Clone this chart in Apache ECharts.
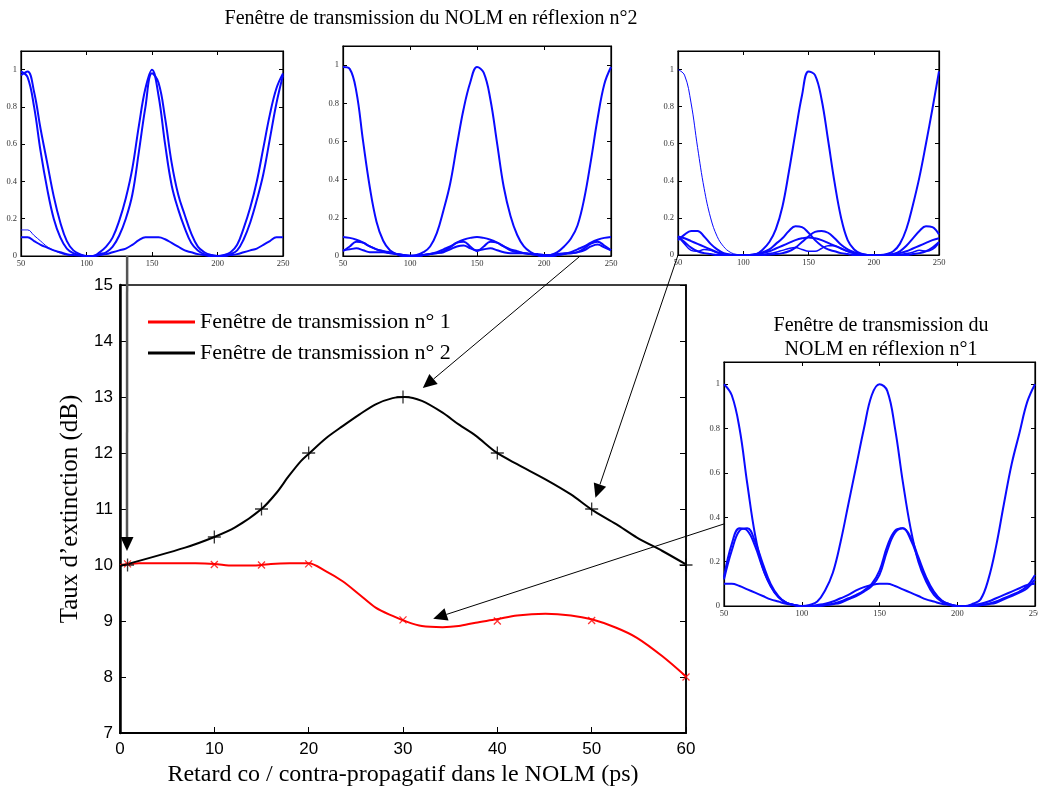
<!DOCTYPE html>
<html><head><meta charset="utf-8">
<script src="https://cdn.jsdelivr.net/npm/echarts@6/dist/echarts.min.js"></script>
<style>html,body{margin:0;padding:0;background:#fff}#c{width:1038px;height:791px}</style>
</head><body><div id="c"></div>
<script>
// ---------- main chart data ----------
const seriesNames = ['Fenêtre de transmission n° 1', 'Fenêtre de transmission n° 2'];
const markerX = [0.8, 10, 15, 20, 30, 40, 50, 60];
const win1Markers = [10.02, 10.01, 10.0, 10.02, 9.02, 9.0, 9.01, 8.0];
const win2Markers = [10.0, 10.5, 11.0, 12.0, 13.0, 12.0, 11.0, 10.0];
const win1CurveX = [0, 2, 5, 8, 10, 12, 14, 15, 16, 18, 20, 21.8, 23.6, 25.4, 27.1, 28.9, 30.2, 32, 34.2, 35.9, 37.7, 39.9, 42.1, 45.1, 47.8, 50, 52.6, 54.8, 57.5, 60];
const win1CurveY = [10.0, 10.03, 10.03, 10.03, 10.02, 9.99, 9.99, 10.0, 10.02, 10.03, 10.03, 9.89, 9.71, 9.47, 9.24, 9.09, 9.0, 8.91, 8.89, 8.91, 8.97, 9.03, 9.1, 9.13, 9.1, 9.03, 8.88, 8.7, 8.37, 8.01];
const win2CurveX = [0, 6.9, 10, 12.2, 15, 16.6, 17.9, 19.2, 20.1, 21.8, 23.6, 25.4, 27.1, 28.9, 30.2, 32, 34.2, 35.9, 37.7, 39.9, 42.1, 45.1, 47.8, 50, 52.6, 54.8, 57.5, 60];
const win2CurveY = [9.98, 10.31, 10.5, 10.67, 11.0, 11.29, 11.59, 11.86, 12.0, 12.26, 12.48, 12.69, 12.87, 12.98, 13.0, 12.93, 12.72, 12.51, 12.31, 12.01, 11.8, 11.53, 11.26, 10.99, 10.73, 10.49, 10.25, 10.01];
const xName = 'Retard co / contra-propagatif dans le NOLM (ps)';
const yName = 'Taux d’extinction (dB)';
const title2 = 'Fenêtre de transmission du NOLM en réflexion n°2';
const title1 = 'Fenêtre de transmission du\nNOLM en réflexion n°1';

// ---------- inset data (x = time, y = normalised power) ----------
const insetX = [50,55,60,65,70,75,80,85,90,95,100,105,110,115,120,125,130,135,140,145,150,155,160,165,170,175,180,185,190,195,200,205,210,215,220,225,230,235,240,245,250];
// inset 1 (réflexion n°2, delay 0)
const in1PeakA = [0.99,0.96,0.8,0.56,0.36,0.2,0.1,0.04,0.015,0.005,0,0,0.02,0.05,0.1,0.19,0.31,0.47,0.7,0.9,1.0,0.86,0.6,0.38,0.25,0.15,0.07,0.03,0.01,0.005,0,0.005,0.02,0.06,0.15,0.26,0.4,0.58,0.76,0.9,0.98];
const in1PeakB = [0.97,0.99,0.88,0.68,0.5,0.32,0.18,0.08,0.03,0.01,0,0,0.01,0.02,0.05,0.11,0.2,0.33,0.56,0.8,0.98,0.93,0.74,0.5,0.33,0.22,0.12,0.05,0.02,0.005,0,0,0.01,0.03,0.09,0.18,0.3,0.44,0.63,0.82,0.97];
const in1Small = [0.1,0.1,0.08,0.06,0.045,0.03,0.02,0.01,0.005,0.002,0,0,0.005,0.01,0.02,0.03,0.04,0.06,0.085,0.1,0.1,0.1,0.09,0.07,0.05,0.03,0.02,0.01,0.005,0,0,0.002,0.005,0.01,0.02,0.03,0.04,0.06,0.08,0.1,0.1];
const in1Thin = [0.14,0.14,0.11,0.08,0.05,0.03,0.015,0.005,0];
// inset 2 (delay 30)
const in2Peak = [0.99,0.98,0.86,0.6,0.36,0.18,0.08,0.03,0.01,0,0,0.005,0.02,0.05,0.12,0.24,0.38,0.58,0.77,0.91,0.99,0.96,0.82,0.59,0.36,0.21,0.11,0.05,0.02,0.005,0,0.005,0.02,0.05,0.09,0.16,0.3,0.5,0.72,0.9,0.99];
const in2SmallA = [0.1,0.095,0.085,0.07,0.05,0.035,0.025,0.015,0.01,0.005,0,0,0.005,0.01,0.02,0.035,0.05,0.07,0.085,0.095,0.1,0.095,0.085,0.07,0.05,0.035,0.025,0.015,0.01,0.005,0,0,0.005,0.01,0.02,0.035,0.05,0.07,0.085,0.095,0.1];
const in2SmallB = [0.025,0.05,0.075,0.07,0.05,0.035,0.025,0.02,0.01,0.005,0,0,0.005,0.01,0.015,0.025,0.045,0.07,0.075,0.05,0.025,0.05,0.075,0.07,0.05,0.03,0.02,0.015,0.01,0.005,0,0,0.005,0.01,0.015,0.02,0.04,0.065,0.075,0.055,0.03];
const in2SmallC = [0.03,0.035,0.04,0.03,0.02,0.02,0.02,0.015,0.01,0.005,0.002,0.002,0.005,0.01,0.015,0.02,0.035,0.05,0.055,0.04,0.03,0.035,0.04,0.03,0.02,0.015,0.015,0.015,0.01,0.01,0.005,0.005,0.01,0.015,0.015,0.02,0.03,0.05,0.06,0.045,0.03];
// inset 3 (delay 50)
const in3PeakLeft = [1.0,0.97,0.82,0.58,0.36,0.2,0.1,0.045,0.015,0.003,0];
const in3Peak = [0,0,0.005,0.03,0.07,0.14,0.26,0.45,0.66,0.86,0.99,0.97,0.84,0.62,0.39,0.2,0.08,0.03,0.008,0,0,0,0.005,0.02,0.06,0.14,0.27,0.42,0.6,0.79,0.99];
const in3SmallA = [0.1,0.07,0.04,0.02,0.01,0.005,0,0,0,0,0,0,0.005,0.015,0.03,0.06,0.09,0.13,0.155,0.15,0.12,0.08,0.05,0.03,0.02,0.01,0.005,0,0,0,0,0,0,0.005,0.02,0.05,0.09,0.13,0.155,0.15,0.11];
const in3SmallB = [0.08,0.11,0.13,0.13,0.1,0.06,0.03,0.01,0.003,0,0,0,0,0,0.002,0.005,0.01,0.02,0.04,0.07,0.1,0.125,0.13,0.12,0.09,0.055,0.03,0.015,0.005,0,0,0,0,0,0,0,0.005,0.01,0.02,0.04,0.07];
const in3SmallC = [0.1,0.09,0.075,0.06,0.045,0.03,0.015,0.005,0,0,0,0,0.005,0.01,0.02,0.035,0.05,0.065,0.08,0.09,0.095,0.09,0.08,0.065,0.05,0.035,0.02,0.01,0.005,0,0,0,0,0.005,0.01,0.02,0.035,0.05,0.065,0.08,0.09];
const in3SmallD = [0.1,0.06,0.025,0.02,0.03,0.025,0.012,0.004,0,0,0,0,0,0.003,0.008,0.015,0.025,0.035,0.04,0.03,0.02,0.02,0.035,0.05,0.05,0.035,0.02,0.008,0.002,0,0,0,0,0,0.003,0.008,0.015,0.025,0.02,0.03,0.065];
// inset 4 (réflexion n°1)
const in4Peak = [1.0,0.95,0.8,0.55,0.32,0.17,0.09,0.04,0.015,0.003,0,0.005,0.02,0.07,0.15,0.29,0.46,0.63,0.8,0.95,1.0,0.97,0.8,0.56,0.35,0.2,0.11,0.05,0.02,0.005,0,0,0.01,0.03,0.12,0.27,0.46,0.64,0.78,0.92,1.0];
const in4BumpA = [0.13,0.28,0.35,0.34,0.27,0.17,0.09,0.04,0.015,0.005,0,0,0,0.005,0.01,0.02,0.035,0.05,0.07,0.1,0.16,0.27,0.34,0.35,0.3,0.21,0.12,0.06,0.025,0.008,0,0,0,0.005,0.01,0.02,0.035,0.05,0.065,0.09,0.14];
const in4BumpB = [0.12,0.25,0.34,0.35,0.29,0.19,0.1,0.045,0.015,0.005,0,0,0,0.003,0.008,0.015,0.03,0.045,0.065,0.09,0.14,0.25,0.33,0.35,0.31,0.22,0.13,0.065,0.025,0.008,0,0,0,0.003,0.008,0.015,0.03,0.045,0.06,0.08,0.12];
const in4Small = [0.1,0.1,0.09,0.075,0.06,0.045,0.03,0.02,0.01,0.005,0,0,0.005,0.01,0.02,0.035,0.05,0.07,0.085,0.095,0.1,0.1,0.09,0.075,0.06,0.045,0.03,0.02,0.01,0.005,0,0,0.005,0.01,0.02,0.035,0.05,0.065,0.08,0.095,0.1];

// ---------- layout ----------
const mainRect = [120, 285, 566, 448];
const insetRects = [[21, 51, 262, 205], [343, 46, 268, 210], [678, 51, 261, 204], [724, 362, 311, 244]];
const insetCurves = [
  [[in1PeakA, 0, 2], [in1PeakB, 0, 2], [in1Small, 0, 2], [in1Thin, 0, 1]],
  [[in2Peak, 0, 2], [in2SmallA, 0, 2], [in2SmallB, 0, 2], [in2SmallC, 0, 2]],
  [[in3PeakLeft, 0, 1], [in3Peak, 10, 2], [in3SmallA, 0, 2], [in3SmallB, 0, 2], [in3SmallC, 0, 2], [in3SmallD, 0, 1.5]],
  [[in4Peak, 0, 2], [in4BumpA, 0, 2], [in4BumpB, 0, 2], [in4Small, 0, 2]]
];
// arrows: start = [gridIndex, x, y] in inset data coords, tip = main chart data coords
const arrowStarts = [[1, 131, 0], [2, 227, 0], [3, 50, 0], [4, 50, 0.37]];
const arrowTips = [[0.74, 10.25], [32.1, 13.16], [50.4, 11.2], [33.2, 9.04]];

const SERIF = 'Liberation Serif';
const SANS = 'Liberation Sans';
const BLUE = '#0a0aff';

const chart = echarts.init(document.getElementById('c'), null, {renderer: 'canvas'});
const zip = (xs, ys) => ys.map((y, i) => [xs[i], y]);

const grids = [{left: mainRect[0], top: mainRect[1], width: mainRect[2], height: mainRect[3], show: true, borderColor: '#000', borderWidth: 1.5, containLabel: false, outerBoundsMode: 'none'}];
const xAxes = [{
  type: 'value', gridIndex: 0, min: 0, max: 60, interval: 10,
  name: xName, nameLocation: 'middle', nameGap: 30,
  nameTextStyle: {fontFamily: SERIF, fontSize: 24, color: '#000'},
  axisLine: {show: true, onZero: false, lineStyle: {color: '#000', width: 2}},
  axisTick: {inside: true, length: 6, lineStyle: {color: '#000'}},
  axisLabel: {fontFamily: SANS, fontSize: 17, color: '#000', margin: 8},
  splitLine: {show: false}
}];
const yAxes = [{
  type: 'value', gridIndex: 0, min: 7, max: 15, interval: 1, position: 'left',
  name: yName, nameLocation: 'middle', nameGap: 32, nameRotate: 90,
  nameTextStyle: {fontFamily: SERIF, fontSize: 25, color: '#000'},
  axisLine: {show: true, onZero: false, lineStyle: {color: '#000', width: 2.5}},
  axisTick: {inside: true, length: 6, lineStyle: {color: '#000'}},
  axisLabel: {fontFamily: SANS, fontSize: 17, color: '#000', margin: 7},
  splitLine: {show: false}
}, {
  type: 'value', gridIndex: 0, min: 7, max: 15, interval: 1, position: 'right',
  axisLine: {show: true, onZero: false, lineStyle: {color: '#000', width: 1.5}},
  axisTick: {inside: true, length: 6, lineStyle: {color: '#000'}},
  axisLabel: {show: false}, splitLine: {show: false}
}];

const insetAxisIdx = [];
insetRects.forEach((r, k) => {
  const gi = k + 1;
  grids.push({left: r[0], top: r[1], width: r[2], height: r[3], show: true, borderColor: '#000', borderWidth: 1.2, containLabel: false, outerBoundsMode: 'none'});
  const xi = xAxes.length, yi = yAxes.length;
  insetAxisIdx.push([xi, yi]);
  const common = {axisLine: {show: true, onZero: false, lineStyle: {color: '#000', width: 1.2}}, axisTick: {inside: true, length: 4, lineStyle: {color: '#000', width: 1}}, splitLine: {show: false}};
  xAxes.push(Object.assign({type: 'value', gridIndex: gi, min: 50, max: 250, interval: 50, position: 'bottom',
    axisLabel: {fontFamily: SERIF, fontSize: 8.5, color: '#333', margin: 3}}, common));
  xAxes.push(Object.assign({type: 'value', gridIndex: gi, min: 50, max: 250, interval: 50, position: 'top', axisLabel: {show: false}}, common));
  yAxes.push(Object.assign({type: 'value', gridIndex: gi, min: 0, max: 1.1, interval: 0.2, position: 'left',
    axisLabel: {fontFamily: SERIF, fontSize: 8.5, color: '#333', margin: 4, formatter: v => v > 1.05 ? '' : String(Math.round(v * 10) / 10)}}, common));
  yAxes.push(Object.assign({type: 'value', gridIndex: gi, min: 0, max: 1.1, interval: 0.2, position: 'right', axisLabel: {show: false}}, common));
});

const series = [
  {type: 'line', name: seriesNames[0], xAxisIndex: 0, yAxisIndex: 0, data: zip(win1CurveX, win1CurveY), smooth: 0.3, symbol: 'none', color: '#ff0000', lineStyle: {color: '#ff0000', width: 2}, z: 3},
  {type: 'line', name: seriesNames[1], xAxisIndex: 0, yAxisIndex: 0, data: zip(win2CurveX, win2CurveY), smooth: 0.3, symbol: 'none', color: '#000000', lineStyle: {color: '#000', width: 2}, z: 3},
  {type: 'scatter', name: 'm1', xAxisIndex: 0, yAxisIndex: 0, data: zip(markerX, win1Markers), symbol: 'path://M0,0L10,10M10,0L0,10', symbolSize: 7, itemStyle: {color: 'rgba(0,0,0,0)', borderColor: '#ff0000', borderWidth: 1.3}, z: 4},
  {type: 'scatter', name: 'm2', xAxisIndex: 0, yAxisIndex: 0, data: zip(markerX, win2Markers), symbol: 'path://M0,5L10,5M5,0L5,10', symbolSize: 13, itemStyle: {color: 'rgba(0,0,0,0)', borderColor: '#000', borderWidth: 1.3}, z: 4}
];
insetCurves.forEach((curves, k) => {
  const [xi, yi] = insetAxisIdx[k];
  curves.forEach(([ys, off, w]) => {
    series.push({type: 'line', xAxisIndex: xi, yAxisIndex: yi, data: zip(insetX.slice(off), ys), smooth: 0.4, symbol: 'none', lineStyle: {color: BLUE, width: w}, z: 2, silent: true});
  });
});

chart.setOption({
  animation: false,
  backgroundColor: '#fff',
  grid: grids, xAxis: xAxes, yAxis: yAxes, series: series,
  legend: {
    data: [{name: seriesNames[0], icon: 'rect'}, {name: seriesNames[1], icon: 'rect'}],
    orient: 'vertical', left: 148, top: 311, padding: 0, itemWidth: 47, itemHeight: 3, itemGap: 9, selectedMode: false,
    textStyle: {fontFamily: SERIF, fontSize: 22, color: '#000'}
  }
});

// annotations: titles and arrows
const graphics = [
  {type: 'text', x: 431, y: 19, style: {text: title2, fontFamily: SERIF, fontSize: 20, fill: '#000', textAlign: 'center', textVerticalAlign: 'middle'}},
  {type: 'text', x: 881, y: 338, style: {text: title1, fontFamily: SERIF, fontSize: 20, lineHeight: 24, fill: '#000', textAlign: 'center', textVerticalAlign: 'middle'}}
];
arrowStarts.forEach((s, i) => {
  const [xi, yi] = insetAxisIdx[s[0] - 1];
  const p0 = chart.convertToPixel({xAxisIndex: xi, yAxisIndex: yi}, [s[1], s[2]]);
  const p1 = chart.convertToPixel({xAxisIndex: 0, yAxisIndex: 0}, arrowTips[i]);
  const dx = p1[0] - p0[0], dy = p1[1] - p0[1];
  const L = Math.hypot(dx, dy), ux = dx / L, uy = dy / L;
  const hl = 14, hw = 6.5;
  const bx = p1[0] - ux * hl, by = p1[1] - uy * hl;
  const first = i === 0;
  graphics.push({type: 'line', shape: {x1: p0[0], y1: p0[1], x2: bx, y2: by}, style: {stroke: first ? '#555' : '#000', lineWidth: first ? 2.5 : 1}, z: 100});
  graphics.push({type: 'polygon', shape: {points: [[p1[0], p1[1]], [bx - uy * hw, by + ux * hw], [bx + uy * hw, by - ux * hw]]}, style: {fill: '#000'}, z: 100});
});
chart.setOption({graphic: graphics});
</script></body></html>
